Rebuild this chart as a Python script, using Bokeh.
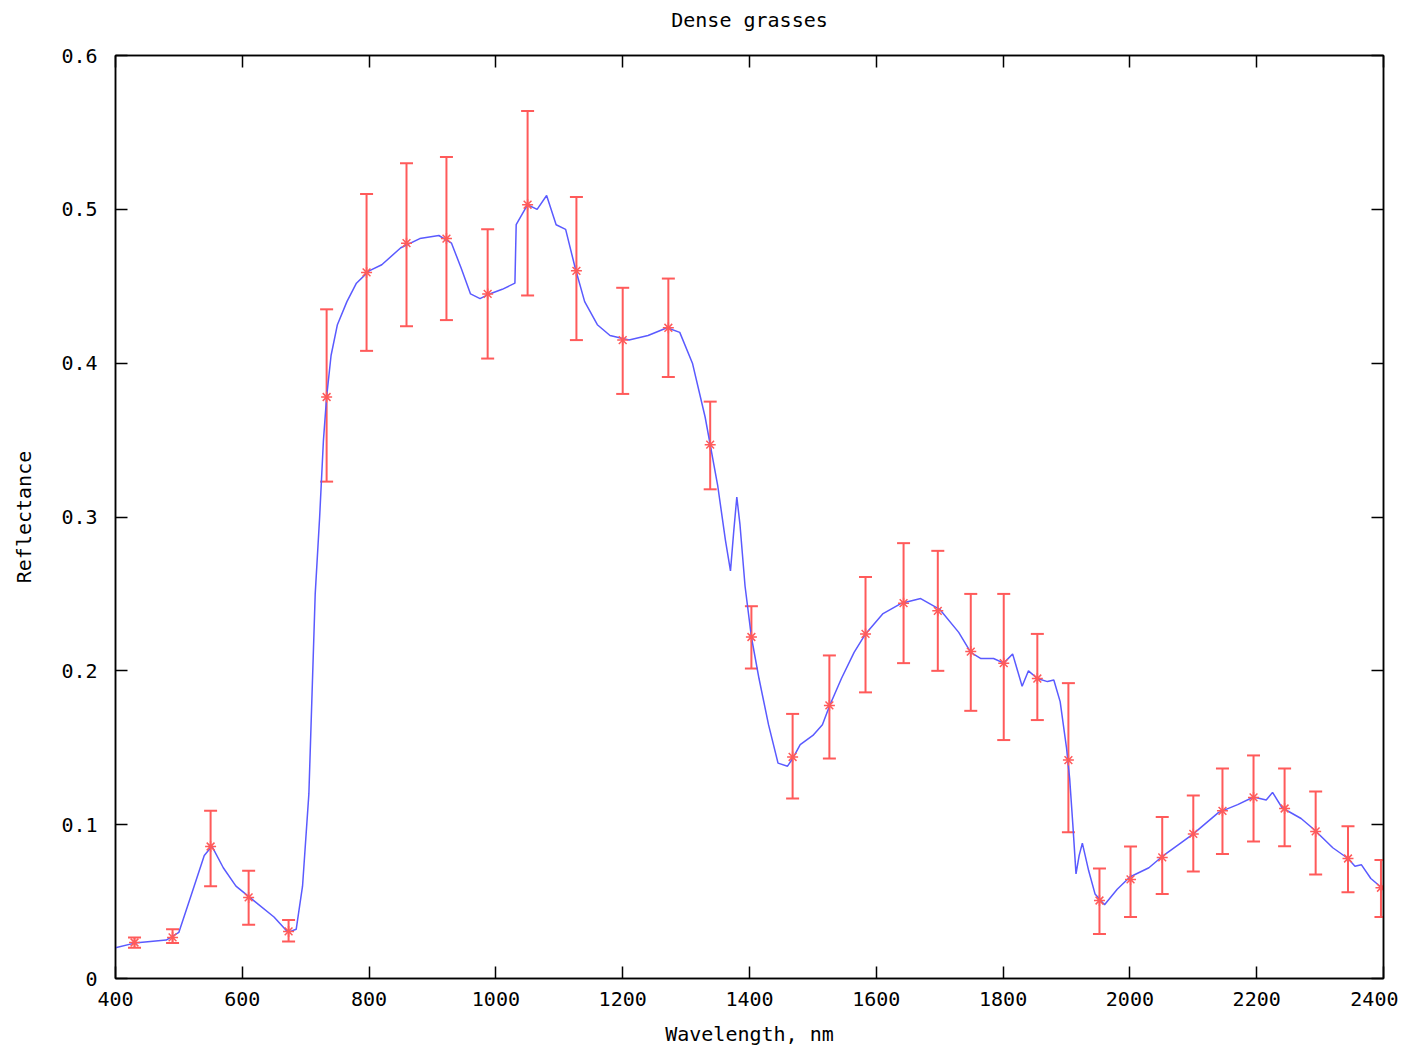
from bokeh.plotting import figure
from bokeh.models import ColumnDataSource, Whisker, TeeHead, LinearAxis, FixedTicker, Range1d
from bokeh.embed import file_html
from bokeh.resources import INLINE

# Spectrum (blue line)
spec_x = [400, 430, 480, 500, 520, 540, 552, 570, 590, 620, 650, 672, 685, 695, 705, 715, 722, 728, 733, 740,
          750, 765, 780, 800, 820, 850, 880, 910, 930, 945, 960, 975, 990, 1010, 1030, 1032, 1050, 1065, 1080, 1095,
          1110, 1125, 1140, 1160, 1180, 1210, 1240, 1270, 1290, 1310, 1330, 1338, 1350, 1362, 1370, 1375, 1380, 1385, 1393, 1403,
          1415, 1430, 1445, 1460, 1468, 1480, 1500, 1515, 1526, 1545, 1565, 1583, 1610, 1640, 1670, 1700, 1730, 1749, 1765, 1785,
          1801, 1815, 1830, 1840, 1854, 1870, 1880, 1890, 1900, 1905, 1910, 1915, 1920, 1925, 1935, 1945, 1960, 1980, 2000, 2030,
          2050, 2080, 2100, 2140, 2170, 2195, 2215, 2225, 2240, 2270, 2290, 2320, 2344, 2355, 2365, 2380, 2400]
spec_y = [0.020, 0.023, 0.025, 0.030, 0.055, 0.080, 0.086, 0.072, 0.060, 0.050, 0.040, 0.030, 0.032, 0.060, 0.120, 0.250, 0.300, 0.350, 0.378, 0.405,
          0.425, 0.440, 0.452, 0.460, 0.464, 0.475, 0.481, 0.483, 0.478, 0.462, 0.445, 0.442, 0.445, 0.448, 0.452, 0.490, 0.503, 0.500, 0.509, 0.490,
          0.487, 0.462, 0.440, 0.425, 0.418, 0.415, 0.418, 0.423, 0.420, 0.400, 0.365, 0.347, 0.320, 0.285, 0.265, 0.290, 0.313, 0.295, 0.255, 0.222,
          0.195, 0.165, 0.140, 0.138, 0.143, 0.152, 0.158, 0.165, 0.177, 0.195, 0.212, 0.224, 0.237, 0.244, 0.247, 0.240, 0.225, 0.212, 0.208, 0.208,
          0.205, 0.211, 0.190, 0.200, 0.195, 0.193, 0.194, 0.180, 0.150, 0.130, 0.100, 0.068, 0.080, 0.088, 0.070, 0.055, 0.048, 0.058, 0.066, 0.072,
          0.079, 0.088, 0.094, 0.108, 0.113, 0.118, 0.116, 0.121, 0.111, 0.104, 0.097, 0.085, 0.078, 0.073, 0.074, 0.065, 0.058]

# Error-bar points (red)
err_x = [430, 490, 550, 610, 673, 733, 796, 859, 922, 987, 1050, 1127, 1200, 1272, 1338, 1403, 1468, 1526,
         1583, 1643, 1697, 1749, 1801, 1854, 1903, 1952, 2001, 2051, 2100, 2146, 2195, 2244, 2293, 2344, 2396]
err_y = [0.0234, 0.0267, 0.0858, 0.0527, 0.0306, 0.378, 0.459, 0.478, 0.481, 0.445, 0.503, 0.460, 0.415, 0.423, 0.347, 0.222, 0.144, 0.1775,
         0.224, 0.244, 0.239, 0.2125, 0.205, 0.195, 0.142, 0.0507, 0.0644, 0.0787, 0.094, 0.109, 0.1177, 0.1105, 0.0956, 0.078, 0.059]
err_hi = [0.0267, 0.032, 0.109, 0.070, 0.038, 0.435, 0.510, 0.530, 0.534, 0.487, 0.564, 0.508, 0.449, 0.455, 0.375, 0.242, 0.172, 0.210,
          0.261, 0.283, 0.278, 0.250, 0.250, 0.224, 0.192, 0.0715, 0.0858, 0.105, 0.119, 0.1365, 0.145, 0.1365, 0.1216, 0.099, 0.077]
err_lo = [0.020, 0.023, 0.060, 0.035, 0.024, 0.323, 0.408, 0.424, 0.428, 0.403, 0.444, 0.415, 0.380, 0.391, 0.318, 0.2015, 0.117, 0.143,
          0.186, 0.205, 0.200, 0.174, 0.155, 0.168, 0.095, 0.029, 0.040, 0.055, 0.0695, 0.081, 0.089, 0.086, 0.0676, 0.056, 0.040]

x_ticks = [400, 600, 800, 1000, 1200, 1400, 1600, 1800, 2000, 2200, 2400]
y_ticks = [0, 0.1, 0.2, 0.3, 0.4, 0.5, 0.6]
y_labels = ["0", "0.1", "0.2", "0.3", "0.4", "0.5", "0.6"]
title_text = "Dense grasses"

FONT = "DejaVu Sans Mono"
FS = "20px"
BLUE = "#5a5aff"
RED = "#ff5a5a"

p = figure(width=1398, height=1051, output_backend="svg", toolbar_location=None,
           x_range=Range1d(400, 2400), y_range=Range1d(0, 0.6),
           min_border_left=115, min_border_right=15, min_border_top=55, min_border_bottom=73,
           x_axis_label="Wavelength, nm", y_axis_label="Reflectance")
p.grid.visible = False
p.outline_line_color = "black"
p.outline_line_width = 1.5
p.background_fill_color = "white"
p.border_fill_color = "white"

def style_axis(ax):
    ax.axis_line_color = "black"
    ax.axis_line_width = 1.5
    ax.major_tick_in = 12
    ax.major_tick_out = 0
    ax.major_tick_line_width = 1.5
    ax.minor_tick_line_color = None
    ax.major_label_text_font = FONT
    ax.major_label_text_font_size = FS
    ax.major_label_text_color = "black"
    ax.axis_label_text_font = FONT
    ax.axis_label_text_font_size = FS
    ax.axis_label_text_font_style = "normal"
    ax.axis_label_text_color = "black"

xa = p.xaxis[0]
xa.ticker = FixedTicker(ticks=x_ticks)
style_axis(xa)
xa.major_label_standoff = 13
xa.axis_label_standoff = 13

ya = p.yaxis[0]
ya.ticker = FixedTicker(ticks=y_ticks)
ya.major_label_overrides = {t: l for t, l in zip(y_ticks, y_labels)}
style_axis(ya)
ya.major_label_standoff = 18
ya.axis_label_standoff = 22

# top axis carries the chart title as its axis label
top = LinearAxis(ticker=FixedTicker(ticks=x_ticks), axis_label=title_text)
style_axis(top)
top.major_label_text_font_size = "0px"
top.major_label_text_alpha = 0
top.major_label_standoff = 0
top.axis_label_standoff = 24
p.add_layout(top, "above")

right = LinearAxis(ticker=FixedTicker(ticks=y_ticks))
style_axis(right)
right.major_label_text_font_size = "0px"
right.major_label_text_alpha = 0
right.major_label_standoff = 0
p.add_layout(right, "right")

spec = ColumnDataSource(dict(x=spec_x, y=spec_y))
errs = ColumnDataSource(dict(x=err_x, y=err_y, lo=err_lo, hi=err_hi))

p.line("x", "y", source=spec, line_color=BLUE, line_width=1.5)

wh = Whisker(base="x", upper="hi", lower="lo", source=errs, line_color=RED, line_width=2,
             upper_head=TeeHead(size=13, line_color=RED, line_width=2),
             lower_head=TeeHead(size=13, line_color=RED, line_width=2))
p.add_layout(wh)
p.scatter("x", "y", source=errs, marker="asterisk", size=11, line_color=RED, line_width=1.5)

open("out.html", "w").write(file_html(p, INLINE))
